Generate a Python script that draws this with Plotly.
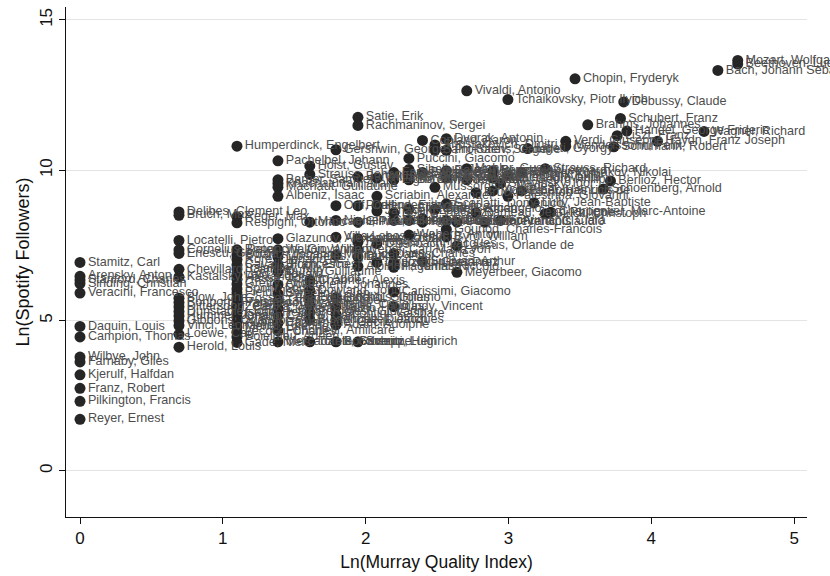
import plotly.graph_objects as go

# ---- data: Ln(Murray Quality Index) columns and Ln(Spotify Followers) ----
col0_x = 0.0
col0_names = ["Stamitz, Carl", "Arensky, Anton", "Stanford, Charles", "Sinding, Christian",
              "Veracini, Francesco", "Daquin, Louis", "Campion, Thomas", "Wilbye, John",
              "Farnaby, Giles", "Kjerulf, Halfdan", "Franz, Robert", "Pilkington, Francis",
              "Reyer, Ernest"]
col0_y = [6.93, 6.47, 6.35, 6.23, 5.91, 4.80, 4.45, 3.78, 3.62, 3.19, 2.74, 2.31, 1.71]

col1_x = 0.693
col1_names = ["Delibes, Clement Leo", "Bruch, Max", "Locatelli, Pietro", "Cornelius, Peter",
              "Enescu, George", "Chevillard, Camille", "Kastalsky, Alexander", "Blow, John",
              "Bonporti, Francesco", "Dittersdorf, Carl", "Dunstable, John", "Hummel, Johann",
              "Gibbons, Orlando", "Vinci, Leonardo", "Loewe, Carl", "Herold, Louis"]
col1_y = [8.61, 8.50, 7.66, 7.35, 7.23, 6.70, 6.45, 5.74, 5.60, 5.46, 5.30, 5.15,
          4.99, 4.83, 4.54, 4.11]

col2_x = 1.099
col2_names = ["Humperdinck, Engelbert", "Reger, Max", "Respighi, Ottorino",
              "Bononcini, Giovanni", "Quantz, Johann", "Rore, Cipriano de", "Cavalli, Francesco",
              "Balakirev, Mily", "Lalo, Edouard", "Hasse, Johann Adolf", "Gretry, Andre",
              "Spohr, Louis", "Field, John", "Gossec, Francois", "Paisiello, Giovanni",
              "Zelenka, Jan", "Isaac, Heinrich", "Graun, Carl", "Auber, Daniel",
              "Mehul, Etienne", "Lecocq, Charles", "Boieldieu, Adrien", "Gade, Niels"]
col2_y = [10.80, 8.45, 8.25,
          7.35, 7.19, 7.03, 6.85, 6.71, 6.52, 6.37, 6.21, 6.05, 5.92,
          5.73, 5.57, 5.44, 5.25, 5.11, 4.93, 4.78, 4.61, 4.45, 4.27]

col3_x = 1.386
col3_names = ["Pachelbel, Johann", "Barber, Samuel", "Khachaturian, Aram", "Machaut, Guillaume",
              "Albeniz, Isaac", "Glazunov, Alexander", "Walton, William", "Moscheles, Ignaz",
              "Bloch, Ernest", "Dufay, Guillaume", "Ockeghem, Johannes", "Sweelinck, Jan",
              "Tartini, Giuseppe", "Clementi, Muzio", "Czerny, Carl", "Chaminade, Cecile",
              "Ponchielli, Amilcare", "Mercadante, Saverio"]
col3_y = [10.31, 9.68, 9.56, 9.43, 9.13, 7.72, 7.35, 7.11, 6.86, 6.62, 6.19, 5.89,
          5.64, 5.40, 5.15, 4.91, 4.66, 4.29]

col4_x = 1.609
col4_names = ["Holst, Gustav", "Strauss, Johann", "Mascagni, Pietro", "Chabrier, Alexis",
              "Dowland, John", "Frescobaldi, Girolamo", "Gesualdo, Carlo", "Pergolesi, Giovanni",
              "Buxtehude, Dietrich", "Torelli, Giuseppe"]
col4_y = [10.14, 9.86, 8.27, 6.33, 6.00, 5.76, 5.52, 5.27, 5.03, 4.29]

col5_x = 1.792
col5_names = ["Gershwin, George", "Orff, Carl", "Nielsen, Carl", "Villa-Lobos, Heitor",
              "Milhaud, Darius", "Binchois, Gilles", "Tallis, Thomas", "Spontini, Gaspare",
              "Arcadelt, Jacques", "Adam, Adolphe", "Boccherini, Luigi"]
col5_y = [10.68, 8.82, 8.33, 7.77, 7.17, 5.76, 5.45, 5.21, 5.03, 4.85, 4.29]

col6_x = 1.946
col6_names = ["Satie, Erik", "Rachmaninov, Sergei", "Bartok, Bela", "Poulenc, Francis",
              "Glinka, Mikhail", "Kodaly, Zoltan", "Honegger, Arthur", "Weber, Carl Maria von",
              "Dukas, Paul", "Albinoni, Tomaso", "Schutz, Heinrich"]
col6_y = [11.76, 11.49, 9.78, 8.82, 8.27, 7.72, 7.60, 7.35, 7.11, 6.80, 4.29]

col7_x = 2.079
col7_names = ["Williams, Ralph Vaughan", "Scriabin, Alexander", "Hindemith, Paul",
              "Janacek, Leos", "Offenbach, Jacques", "Donizetti, Gaetano"]
col7_y = [9.74, 9.13, 8.82, 8.64, 7.56, 6.93]

col8_x = 2.197
col8_names = ["Faure, Gabriel", "Elgar, Edward", "Bellini, Vincenzo", "Massenet, Jules",
              "Ives, Charles", "Paganini, Niccolo", "Josquin des Prez", "Carissimi, Giacomo",
              "d'Indy, Vincent"]
col8_y = [9.92, 9.68, 8.58, 8.33, 7.23, 6.77, 6.93, 5.95, 5.46]

col9_x = 2.303
col9_names = ["Puccini, Giacomo", "Sibelius, Jean", "Grieg, Edvard", "Borodin, Alexander",
              "Smetana, Bedrich", "Berg, Alban", "Webern, Anton"]
col9_y = [10.39, 10.02, 9.83, 9.68, 8.70, 8.33, 7.84]

col10_x = 2.398
col10_names = ["Copland, Aaron", "Britten, Benjamin", "Bizet, Georges", "Franck, Cesar",
               "Sullivan, Arthur"]
col10_y = [10.99, 9.92, 8.39, 8.27, 6.96]

col11_x = 2.485
col11_names = ["Shostakovich, Dmitri", "Saint-Saens, Camille", "Mussorgsky, Modest",
               "Corelli, Arcangelo"]
col11_y = [10.84, 10.66, 9.43, 8.70]

col12_x = 2.565
col12_names = ["Dvorak, Antonin", "Prokofiev, Sergei", "Ravel, Maurice", "Rossini, Gioachino",
               "Scarlatti, Domenico", "Purcell, Henry", "Gounod, Charles-Francois",
               "Byrd, William"]
col12_y = [11.05, 10.66, 9.98, 9.74, 8.88, 8.33, 8.03, 7.78]

col13_x = 2.639
col13_names = ["Couperin, Francois", "Lassus, Orlande de", "Meyerbeer, Giacomo"]
col13_y = [8.27, 7.48, 6.60]

# upper-range composers, each with its own Murray value
upper_names = ["Vivaldi, Antonio", "Mahler, Gustav", "Telemann, Georg Philipp",
               "Bruckner, Anton", "Rameau, Jean-Philippe", "Monteverdi, Claudio",
               "Bernstein, Leonard", "Gabrieli, Giovanni", "Victoria, Tomas Luis de",
               "Stravinsky, Igor", "Schumann, Clara", "Tchaikovsky, Piotr Ilyich",
               "Palestrina, Giovanni", "Cherubini, Luigi", "Rimsky-Korsakov, Nikolai",
               "Biber, Heinrich", "Ligeti, Gyorgy", "Lully, Jean-Baptiste",
               "Strauss, Richard", "Gluck, Christoph", "Charpentier, Marc-Antoine",
               "Verdi, Giuseppe", "Mendelssohn, Felix", "Chopin, Fryderyk",
               "Brahms, Johannes", "Schoenberg, Arnold", "Berlioz, Hector",
               "Schumann, Robert", "Liszt, Franz", "Schubert, Franz", "Debussy, Claude",
               "Handel, George Frideric", "Haydn, Franz Joseph", "Wagner, Richard",
               "Bach, Johann Sebastian", "Beethoven, Ludwig van", "Mozart, Wolfgang Amadeus"]
upper_x = [2.708, 2.708, 2.708, 2.773, 2.773, 2.833, 2.890, 2.890, 2.890, 2.944, 2.944,
           2.996, 2.996, 2.996, 3.091, 3.091, 3.135, 3.178, 3.258, 3.258, 3.296,
           3.401, 3.401, 3.466, 3.555, 3.664, 3.714, 3.738, 3.761, 3.784, 3.807,
           3.829, 4.043, 4.369, 4.466, 4.605, 4.605]
upper_y = [12.64, 10.05, 9.68, 9.25, 8.58, 8.27, 9.98, 9.74, 9.31, 9.56, 8.33,
           12.35, 9.13, 9.83, 9.92, 9.31, 10.72, 8.91, 10.05, 8.55, 8.60,
           10.96, 10.80, 13.04, 11.51, 9.37, 9.64, 10.78, 11.15, 11.72, 12.27,
           11.30, 10.96, 11.29, 13.32, 13.53, 13.65]

x_ticks = [0, 1, 2, 3, 4, 5]
y_ticks = [0, 5, 10, 15]

# ---- assemble ----
columns = [
    (col0_x, col0_names, col0_y), (col1_x, col1_names, col1_y), (col2_x, col2_names, col2_y),
    (col3_x, col3_names, col3_y), (col4_x, col4_names, col4_y), (col5_x, col5_names, col5_y),
    (col6_x, col6_names, col6_y), (col7_x, col7_names, col7_y), (col8_x, col8_names, col8_y),
    (col9_x, col9_names, col9_y), (col10_x, col10_names, col10_y),
    (col11_x, col11_names, col11_y), (col12_x, col12_names, col12_y),
    (col13_x, col13_names, col13_y),
]
xs, ys, names = [], [], []
for cx, cn, cy in columns:
    assert len(cn) == len(cy), cn[0]
    xs += [cx] * len(cy)
    ys += cy
    names += cn
assert len(upper_names) == len(upper_x) == len(upper_y)
xs += upper_x
ys += upper_y
names += upper_names

FONT = "Liberation Sans, Arial, sans-serif"

fig = go.Figure(
    go.Scatter(
        x=xs,
        y=ys,
        text=names,
        mode="markers+text",
        textposition="middle right",
        marker=dict(size=11, color="#262626", line=dict(width=0)),
        textfont=dict(family=FONT, size=12.6, color="#4d4d4d"),
        cliponaxis=False,
        hoverinfo="text",
    )
)

fig.update_layout(
    width=830,
    height=576,
    margin=dict(l=66, r=23, t=7, b=59),
    paper_bgcolor="white",
    plot_bgcolor="white",
    showlegend=False,
    font=dict(family=FONT, color="#111111"),
)

fig.update_xaxes(
    range=[-0.098, 5.09],
    tickvals=x_ticks,
    ticks="outside",
    ticklen=6,
    tickcolor="#111111",
    showline=True,
    linecolor="#111111",
    linewidth=1,
    showgrid=False,
    zeroline=False,
    automargin=False,
    tickfont=dict(size=17),
    title=dict(text="Ln(Murray Quality Index)", font=dict(size=17.5), standoff=8),
)

fig.update_yaxes(
    range=[-1.54, 15.43],
    tickvals=y_ticks,
    tickangle=-90,
    ticks="outside",
    ticklen=6,
    tickcolor="#111111",
    showline=True,
    linecolor="#111111",
    linewidth=1,
    showgrid=True,
    gridcolor="#e4e4e4",
    gridwidth=1,
    zeroline=False,
    automargin=False,
    tickfont=dict(size=17),
    title=dict(text="Ln(Spotify Followers)", font=dict(size=18), standoff=2),
)

fig.write_html("out.html")
